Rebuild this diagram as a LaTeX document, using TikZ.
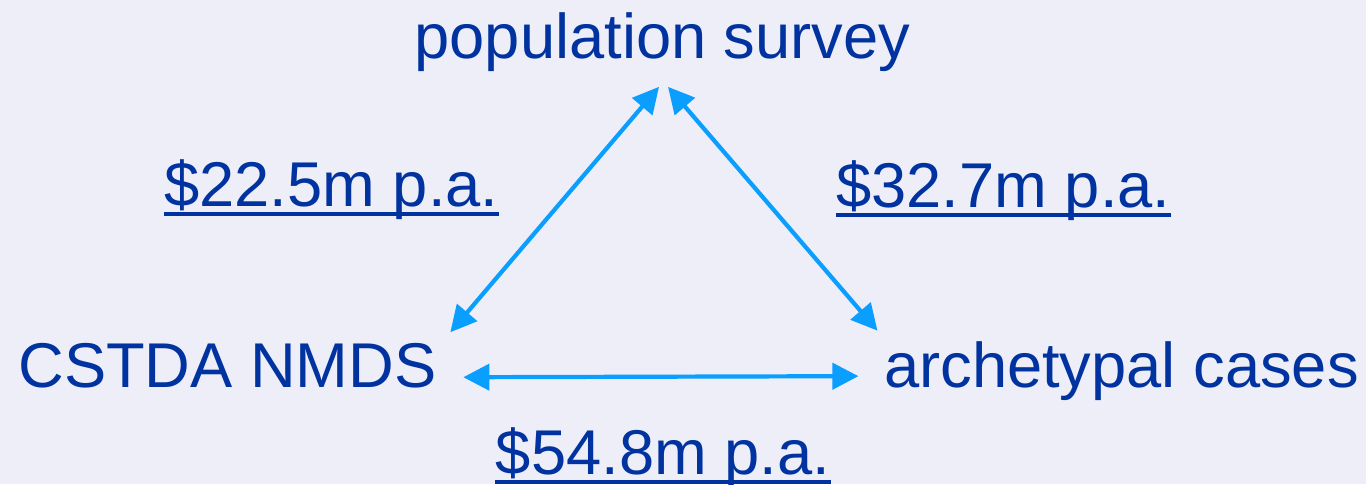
\documentclass[tikz,border=0pt]{standalone}
\usepackage{fontspec}
\setmainfont{Liberation Sans}
\usepackage{tikz}
\usetikzlibrary{arrows.meta,positioning,calc}
\definecolor{costblue}{HTML}{0033A0}
\definecolor{linkblue}{HTML}{0A9EFF}
\definecolor{slidebg}{HTML}{EDEEF7}
\tikzset{
  source/.style={inner sep=0pt, anchor=base, text=costblue, font=\fontsize{18}{20}\selectfont},
  cost/.style={source},
  link/.style={{Triangle[length=0.26cm,width=0.26cm]}-{Triangle[length=0.26cm,width=0.26cm]}, line width=0.042cm, draw=linkblue},
  uline/.style={line width=0.04cm, draw=costblue},
}
\begin{document}
\begin{tikzpicture}
    \useasboundingbox (0,0) rectangle (13.66,4.84);
    \fill[slidebg] (0,0) rectangle (13.66,4.84);
    \node[source] (survey) at (6.625,4.26) {population survey};
    \node[source] (cstda) at (2.275,0.97) {CSTDA NMDS};
    \node[source] (arch) at (11.215,0.97) {archetypal cases};
    \node[cost] (c1) at (3.315,2.78) {\$22.5m p.a.};
    \node[cost] (c2) at (10.035,2.77) {\$32.7m p.a.};
    \node[cost] (c3) at (6.63,0.10) {\$54.8m p.a.};
    \draw[uline] ([yshift=-0.08cm]c1.base west) -- ([yshift=-0.08cm]c1.base east);
    \draw[uline] ([yshift=-0.08cm]c2.base west) -- ([yshift=-0.08cm]c2.base east);
    \draw[uline] ([yshift=-0.08cm]c3.base west) -- ([yshift=-0.08cm]c3.base east);
    \draw[link] ([shift={(0.13,0.33)}]cstda.east) -- ([shift={(-0.035,-0.15)}]survey.south);
    \draw[link] ([shift={(0.055,-0.15)}]survey.south) -- ([shift={(-0.06,0.40)}]arch.west);
    \draw[link] ([shift={(0.26,-0.12)}]cstda.east) -- ([shift={(-0.25,-0.055)}]arch.west);
\end{tikzpicture}
\end{document}
